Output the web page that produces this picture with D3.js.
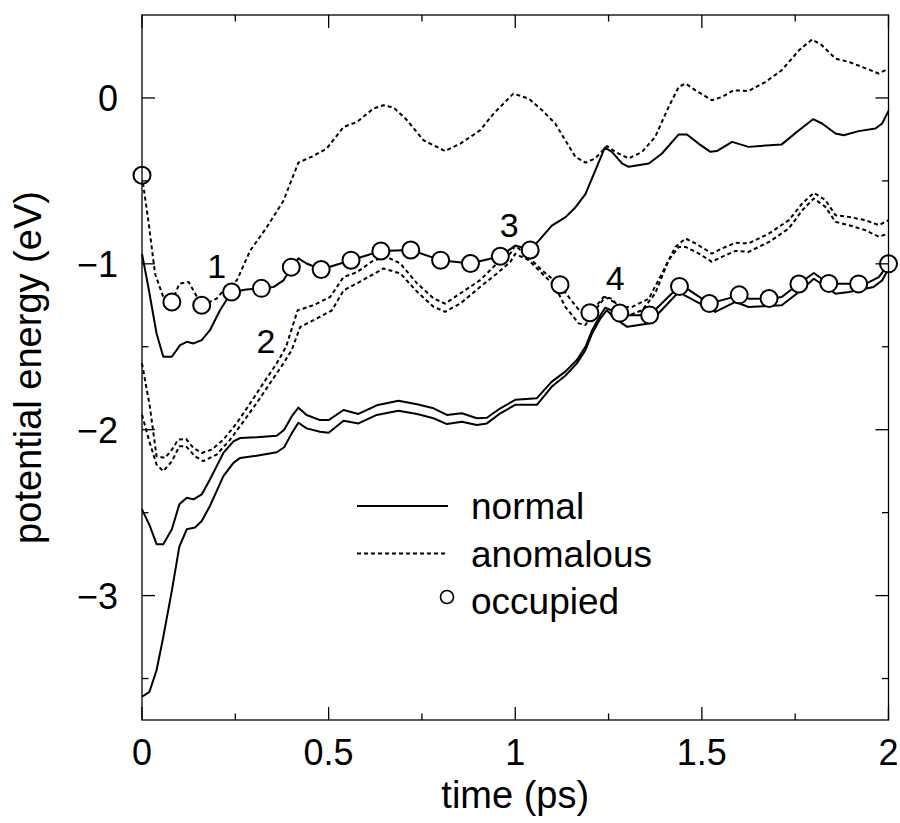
<!DOCTYPE html>
<html>
<head>
  <meta charset="utf-8">
  <title>Potential energy vs time</title>
  <style>
    body { margin: 0; background: #fff; }
    svg text { font-family: "Liberation Sans", Arial, Helvetica, sans-serif; fill: #000; }
    .curve { fill: none; stroke: #000; stroke-width: 2; stroke-linejoin: round; }
    .dashed { stroke-dasharray: 4, 3; }
    .frame line, .frame rect { stroke: #000; stroke-width: 1.3; }
  </style>
</head>
<body>
  <svg id="chart" width="900" height="823"></svg>

  <script src="https://d3js.org/d3.v7.min.js"></script>

  <script>
    // normal (solid) states: [time ps, energy eV]
    const normal1 = [[0,-0.94],[0.017,-1.14],[0.039,-1.42],[0.057,-1.56],[0.08,-1.56],[0.102,-1.49],[0.12,-1.47],[0.138,-1.48],[0.16,-1.46],[0.182,-1.40],[0.209,-1.28],[0.24,-1.17],[0.28,-1.155],[0.32,-1.148],[0.352,-1.14],[0.379,-1.10],[0.40,-1.02],[0.419,-0.967],[0.441,-0.998],[0.48,-1.034],[0.56,-0.978],[0.64,-0.923],[0.72,-0.917],[0.80,-0.978],[0.88,-0.998],[0.96,-0.954],[1.0,-0.89],[1.04,-0.915],[1.063,-0.86],[1.098,-0.77],[1.134,-0.72],[1.161,-0.66],[1.188,-0.58],[1.214,-0.44],[1.24,-0.30],[1.259,-0.325],[1.286,-0.395],[1.304,-0.415],[1.358,-0.395],[1.393,-0.335],[1.438,-0.22],[1.46,-0.22],[1.491,-0.275],[1.523,-0.325],[1.54,-0.32],[1.581,-0.265],[1.625,-0.295],[1.714,-0.28],[1.76,-0.195],[1.798,-0.128],[1.822,-0.154],[1.858,-0.214],[1.88,-0.225],[1.92,-0.2],[1.965,-0.184],[1.983,-0.154],[2.0,-0.078]];
    const normal2 = [[0,-2.48],[0.021,-2.58],[0.039,-2.69],[0.057,-2.69],[0.08,-2.60],[0.1,-2.45],[0.12,-2.41],[0.138,-2.42],[0.16,-2.39],[0.182,-2.30],[0.218,-2.14],[0.245,-2.07],[0.263,-2.05],[0.307,-2.046],[0.361,-2.036],[0.381,-2.0],[0.401,-1.92],[0.419,-1.867],[0.441,-1.911],[0.477,-1.942],[0.5,-1.942],[0.54,-1.881],[0.58,-1.905],[0.629,-1.853],[0.687,-1.825],[0.737,-1.847],[0.781,-1.871],[0.817,-1.911],[0.857,-1.901],[0.897,-1.931],[0.924,-1.928],[0.96,-1.871],[1.0,-1.82],[1.058,-1.81],[1.098,-1.71],[1.134,-1.65],[1.165,-1.58],[1.188,-1.50],[1.206,-1.40],[1.228,-1.31],[1.241,-1.265],[1.268,-1.29],[1.30,-1.31],[1.36,-1.31],[1.44,-1.134],[1.46,-1.15],[1.52,-1.24],[1.60,-1.19],[1.625,-1.21],[1.68,-1.21],[1.714,-1.20],[1.76,-1.12],[1.80,-1.055],[1.84,-1.12],[1.90,-1.12],[1.94,-1.12],[1.974,-1.08],[2.0,-1.0]];
    const normal3 = [[0,-3.61],[0.02,-3.58],[0.039,-3.45],[0.057,-3.25],[0.08,-2.97],[0.1,-2.705],[0.12,-2.60],[0.142,-2.59],[0.16,-2.55],[0.182,-2.46],[0.218,-2.28],[0.245,-2.20],[0.263,-2.17],[0.307,-2.157],[0.361,-2.136],[0.381,-2.106],[0.401,-2.022],[0.419,-1.958],[0.441,-1.992],[0.477,-2.012],[0.5,-2.018],[0.54,-1.946],[0.58,-1.962],[0.629,-1.911],[0.687,-1.886],[0.737,-1.905],[0.781,-1.931],[0.817,-1.966],[0.857,-1.952],[0.897,-1.972],[0.924,-1.962],[0.96,-1.901],[1.0,-1.85],[1.058,-1.85],[1.098,-1.74],[1.134,-1.675],[1.165,-1.60],[1.188,-1.52],[1.206,-1.42],[1.228,-1.33],[1.245,-1.28],[1.268,-1.33],[1.30,-1.38],[1.358,-1.36],[1.438,-1.17],[1.536,-1.29],[1.59,-1.23],[1.625,-1.26],[1.714,-1.25],[1.76,-1.17],[1.80,-1.09],[1.858,-1.18],[1.894,-1.17],[1.96,-1.14],[1.983,-1.10],[2.0,-1.03]];

    // anomalous (dashed) states
    const anomalous1 = [[0,-0.47],[0.017,-0.74],[0.035,-1.06],[0.057,-1.2],[0.08,-1.23],[0.1,-1.12],[0.125,-1.11],[0.16,-1.25],[0.2,-1.21],[0.218,-1.16],[0.254,-1.10],[0.29,-0.92],[0.334,-0.78],[0.379,-0.62],[0.419,-0.39],[0.459,-0.35],[0.495,-0.305],[0.54,-0.175],[0.576,-0.145],[0.62,-0.064],[0.647,-0.044],[0.674,-0.058],[0.71,-0.134],[0.754,-0.255],[0.812,-0.32],[0.853,-0.275],[0.906,-0.195],[0.942,-0.094],[0.995,0.026],[1.036,-0.004],[1.072,-0.074],[1.107,-0.154],[1.134,-0.255],[1.161,-0.355],[1.188,-0.39],[1.214,-0.365],[1.246,-0.29],[1.268,-0.325],[1.304,-0.365],[1.34,-0.325],[1.375,-0.235],[1.411,-0.054],[1.438,0.066],[1.456,0.087],[1.483,0.046],[1.527,-0.014],[1.554,0.006],[1.585,0.046],[1.625,0.042],[1.67,0.096],[1.714,0.167],[1.76,0.287],[1.795,0.352],[1.822,0.317],[1.858,0.237],[1.894,0.217],[1.929,0.187],[1.974,0.147],[2.0,0.177]];
    const anomalous2 = [[0,-1.6],[0.021,-1.86],[0.039,-2.16],[0.062,-2.17],[0.08,-2.12],[0.097,-2.06],[0.118,-2.056],[0.138,-2.11],[0.16,-2.14],[0.187,-2.12],[0.218,-2.06],[0.254,-1.96],[0.29,-1.84],[0.325,-1.72],[0.361,-1.6],[0.386,-1.50],[0.417,-1.28],[0.459,-1.25],[0.504,-1.2],[0.54,-1.08],[0.576,-1.05],[0.62,-0.98],[0.656,-0.958],[0.692,-0.998],[0.737,-1.118],[0.781,-1.208],[0.812,-1.24],[0.853,-1.178],[0.906,-1.098],[0.951,-0.998],[0.987,-0.937],[1.0,-0.89],[1.036,-0.96],[1.072,-1.04],[1.12,-1.13],[1.15,-1.22],[1.175,-1.29],[1.2,-1.30],[1.237,-1.2],[1.259,-1.21],[1.277,-1.26],[1.313,-1.26],[1.358,-1.21],[1.393,-1.058],[1.429,-0.898],[1.456,-0.847],[1.483,-0.877],[1.527,-0.938],[1.554,-0.907],[1.59,-0.873],[1.625,-0.877],[1.68,-0.817],[1.733,-0.737],[1.769,-0.636],[1.8,-0.572],[1.831,-0.616],[1.858,-0.707],[1.894,-0.717],[1.938,-0.737],[1.974,-0.767],[2.0,-0.737]];
    const anomalous3 = [[0,-1.91],[0.021,-2.08],[0.039,-2.21],[0.057,-2.25],[0.08,-2.19],[0.1,-2.10],[0.118,-2.10],[0.142,-2.16],[0.164,-2.19],[0.2,-2.15],[0.236,-2.06],[0.272,-1.95],[0.307,-1.84],[0.343,-1.72],[0.379,-1.6],[0.401,-1.52],[0.424,-1.38],[0.468,-1.33],[0.509,-1.28],[0.54,-1.16],[0.584,-1.108],[0.647,-1.028],[0.692,-1.058],[0.737,-1.168],[0.781,-1.259],[0.812,-1.289],[0.853,-1.239],[0.906,-1.139],[0.951,-1.058],[0.987,-0.988],[1.0,-0.94],[1.036,-0.978],[1.072,-1.058],[1.107,-1.138],[1.134,-1.259],[1.17,-1.359],[1.188,-1.369],[1.214,-1.279],[1.241,-1.2],[1.264,-1.229],[1.295,-1.319],[1.34,-1.279],[1.375,-1.178],[1.411,-0.978],[1.438,-0.898],[1.456,-0.898],[1.491,-0.937],[1.527,-0.988],[1.554,-0.958],[1.59,-0.922],[1.625,-0.928],[1.68,-0.868],[1.733,-0.787],[1.769,-0.677],[1.8,-0.606],[1.831,-0.657],[1.858,-0.747],[1.894,-0.767],[1.938,-0.797],[1.974,-0.837],[2.0,-0.817]];

    // occupied state samples
    const occupied = [[0,-0.466],[0.08,-1.23],[0.16,-1.25],[0.24,-1.17],[0.32,-1.148],[0.40,-1.02],[0.48,-1.034],[0.56,-0.978],[0.64,-0.923],[0.72,-0.917],[0.80,-0.978],[0.88,-0.998],[0.96,-0.954],[1.04,-0.917],[1.12,-1.126],[1.20,-1.295],[1.28,-1.297],[1.36,-1.309],[1.44,-1.136],[1.52,-1.239],[1.60,-1.187],[1.68,-1.209],[1.76,-1.122],[1.84,-1.118],[1.92,-1.121],[2.00,-1.0]];

    // numbered crossing labels [time, energy, text]
    const crossings = [[0.2,-1.087,'1'],[0.332,-1.538,'2'],[0.984,-0.839,'3'],[1.268,-1.159,'4']];

    const xMajor = [0, 0.5, 1, 1.5, 2];
    const xMinor = [0.25, 0.75, 1.25, 1.75];
    const yMajor = [-3, -2, -1, 0];
    const yMinor = [-3.5, -2.5, -1.5, -0.5];
    const legendItems = ['normal', 'anomalous', 'occupied'];

    const margin = { top: 15, left: 142 };
    const width = 746.5, height = 705;

    const x = d3.scaleLinear().domain([0, 2]).range([0, width]);
    const y = d3.scaleLinear().domain([-3.75, 0.5]).range([height, 0]);

    const svg = d3.select('#chart');
    const g = svg.append('g').attr('transform', `translate(${margin.left},${margin.top})`);

    const line = d3.line().x(d => x(d[0])).y(d => y(d[1]));

    [normal1, normal2, normal3].forEach(s => {
      g.append('path').attr('class', 'curve').attr('d', line(s));
    });
    [anomalous1, anomalous2, anomalous3].forEach(s => {
      g.append('path').attr('class', 'curve dashed').attr('d', line(s));
    });

    g.selectAll('.occ')
      .data(occupied)
      .enter()
      .append('circle')
      .attr('class', 'occ')
      .attr('cx', d => x(d[0]))
      .attr('cy', d => y(d[1]))
      .attr('r', 8.5)
      .attr('fill', '#fff')
      .attr('stroke', '#000')
      .attr('stroke-width', 2);

    g.selectAll('.cross')
      .data(crossings)
      .enter()
      .append('text')
      .attr('x', d => x(d[0]))
      .attr('y', d => y(d[1]))
      .attr('text-anchor', 'middle')
      .style('font-size', '34px')
      .text(d => d[2]);

    // frame with inward ticks on all four sides
    const frame = g.append('g').attr('class', 'frame');
    frame.append('rect').attr('width', width).attr('height', height).attr('fill', 'none');

    const majorLen = 13, minorLen = 6.5;
    function xTicks(vals, len) {
      vals.forEach(v => {
        frame.append('line').attr('x1', x(v)).attr('x2', x(v)).attr('y1', height).attr('y2', height - len);
        frame.append('line').attr('x1', x(v)).attr('x2', x(v)).attr('y1', 0).attr('y2', len);
      });
    }
    function yTicks(vals, len) {
      vals.forEach(v => {
        frame.append('line').attr('x1', 0).attr('x2', len).attr('y1', y(v)).attr('y2', y(v));
        frame.append('line').attr('x1', width).attr('x2', width - len).attr('y1', y(v)).attr('y2', y(v));
      });
    }
    xTicks(xMajor, majorLen);
    xTicks(xMinor, minorLen);
    yTicks(yMajor, majorLen);
    yTicks(yMinor, minorLen);

    g.selectAll('.xlab')
      .data(xMajor)
      .enter()
      .append('text')
      .attr('x', d => x(d))
      .attr('y', height + 45)
      .attr('text-anchor', 'middle')
      .style('font-size', '36px')
      .text(d => d3.format('~g')(d));

    g.selectAll('.ylab')
      .data(yMajor)
      .enter()
      .append('text')
      .attr('x', -24)
      .attr('y', d => y(d))
      .attr('dy', '0.36em')
      .attr('text-anchor', 'end')
      .style('font-size', '36px')
      .text(d => d < 0 ? '\u2212' + Math.abs(d) : d);

    svg.append('text')
      .attr('x', margin.left + width / 2)
      .attr('y', 808)
      .attr('text-anchor', 'middle')
      .style('font-size', '38px')
      .text('time (ps)');

    svg.append('text')
      .attr('transform', `translate(41,${margin.top + height / 2}) rotate(-90)`)
      .attr('text-anchor', 'middle')
      .style('font-size', '38px')
      .text('potential energy (eV)');

    // legend
    const legend = svg.append('g').attr('transform', 'translate(357,506)');
    const rowGap = 47.5;
    legendItems.forEach((name, i) => {
      const row = legend.append('g').attr('transform', `translate(0,${i * rowGap})`);
      if (i < 2) {
        row.append('line')
          .attr('class', i === 1 ? 'curve dashed' : 'curve')
          .attr('x1', 0).attr('x2', 91).attr('y1', 0).attr('y2', 0);
      } else {
        row.append('circle')
          .attr('cx', 90).attr('cy', -4).attr('r', 6.5)
          .attr('fill', '#fff').attr('stroke', '#000').attr('stroke-width', 1.6);
      }
      row.append('text')
        .attr('x', 114)
        .attr('y', 13)
        .style('font-size', '37px')
        .text(name);
    });
  </script>
</body>
</html>
